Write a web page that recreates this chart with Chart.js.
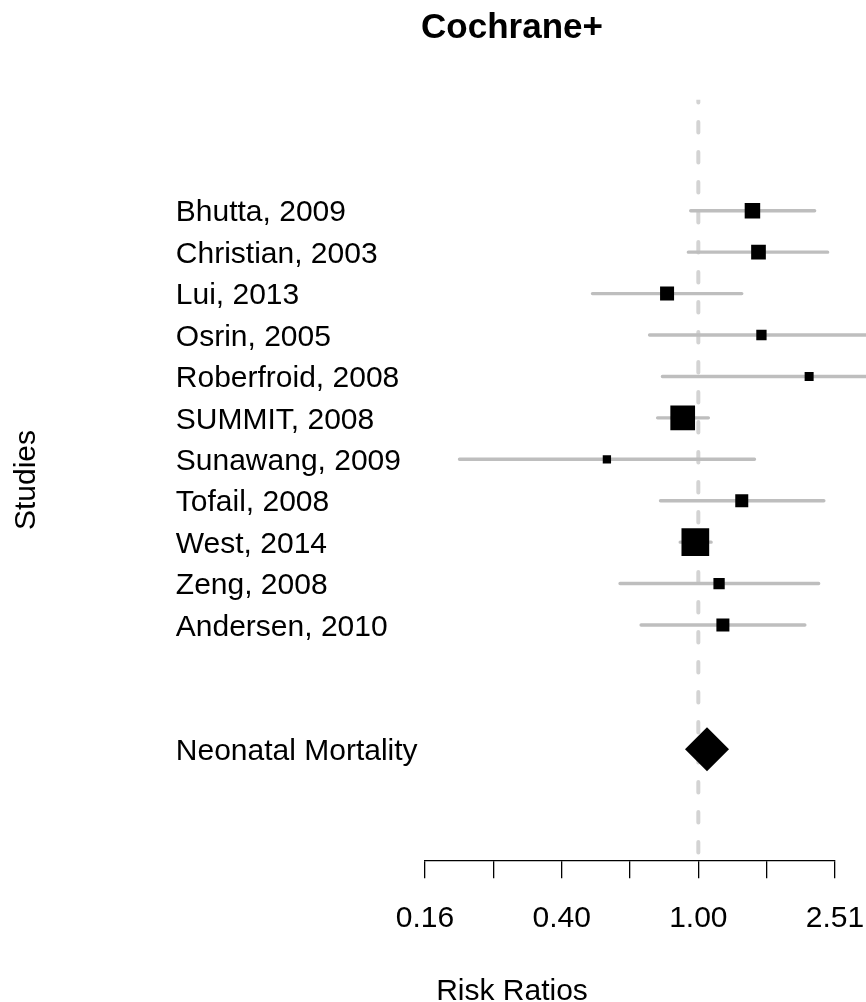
<!DOCTYPE html>
<html>
<head>
<meta charset="utf-8">
<title>Cochrane+</title>
<script src="https://cdn.jsdelivr.net/npm/chart.js@4/dist/chart.umd.min.js"></script>
<style>
  html, body { margin: 0; padding: 0; background: #ffffff; overflow: hidden; }
  canvas { display: block; }
</style>
</head>
<body>
<canvas id="forest" width="866" height="1002"></canvas>
<script>
// ---- data ----
const studies = [
  'Bhutta, 2009', 'Christian, 2003', 'Lui, 2013', 'Osrin, 2005',
  'Roberfroid, 2008', 'SUMMIT, 2008', 'Sunawang, 2009', 'Tofail, 2008',
  'West, 2014', 'Zeng, 2008', 'Andersen, 2010'
];
const riskRatio = [1.44, 1.50, 0.81, 1.53, 2.11, 0.90, 0.54, 1.34, 0.98, 1.15, 1.18];
const ciLower   = [0.95, 0.935, 0.49, 0.72, 0.785, 0.76, 0.20, 0.775, 0.885, 0.59, 0.68];
const ciUpper   = [2.19, 2.39, 1.34, 3.25, 5.66, 1.07, 1.46, 2.33, 1.09, 2.25, 2.05];

const summaryLabel = 'Neonatal Mortality';
const summaryRiskRatio = 1.06;

const tickExponents = [-0.8, -0.6, -0.4, -0.2, 0, 0.2, 0.4];
const tickLabels = ['0.16', '', '0.40', '', '1.00', '', '2.51'];

const chartTitle = 'Cochrane+';
const xTitle = 'Risk Ratios';
const yTitle = 'Studies';

// ---- layout / style ----
const FONT = '"Liberation Sans", Arial, Helvetica, sans-serif';
const TEXT_SIZE = 30;
const Y_MIN = -2.68;          // rows run top-down, study i on row i
const Y_MAX = 15.68;
const summaryRow = studies.length + 2;

// square side (px) for each study, scaled by its weight in the pooled estimate
const boxSide = [15.5, 14.7, 14, 10.3, 9, 24.7, 8.3, 13, 27.7, 11.3, 13];

const ciSegments = [];
studies.forEach((_, i) => {
  ciSegments.push({ x: ciLower[i], y: i }, { x: ciUpper[i], y: i }, { x: null, y: null });
});

const textPlugin = {
  id: 'forestText',
  afterDraw(chart) {
    const { ctx, scales: { y } } = chart;
    const labelX = 175.8;
    const centerX = 512;
    ctx.save();
    ctx.fillStyle = '#000000';
    ctx.textBaseline = 'alphabetic';

    // study names and pooled row
    ctx.font = TEXT_SIZE + 'px ' + FONT;
    ctx.textAlign = 'left';
    const lift = 0.355 * TEXT_SIZE;
    studies.forEach((name, i) => {
      ctx.fillText(name, labelX, y.getPixelForValue(i) + lift);
    });
    ctx.fillText(summaryLabel, labelX, y.getPixelForValue(summaryRow) + lift);

    // axis titles
    ctx.textAlign = 'center';
    ctx.fillText(xTitle, centerX, 1000);
    ctx.save();
    ctx.translate(35, (chart.chartArea.top + chart.chartArea.bottom) / 2);
    ctx.rotate(-Math.PI / 2);
    ctx.fillText(yTitle, 0, 0);
    ctx.restore();

    // main title
    ctx.font = 'bold 35px ' + FONT;
    ctx.fillText(chartTitle, centerX, 38.3);
    ctx.restore();
  }
};

new Chart(document.getElementById('forest'), {
  type: 'scatter',
  data: {
    datasets: [
      {
        // pooled estimate
        data: [{ x: summaryRiskRatio, y: summaryRow }],
        pointStyle: 'rectRot',
        pointRadius: 22,
        backgroundColor: '#000000',
        borderWidth: 0,
        order: 1
      },
      {
        // study estimates
        data: riskRatio.map((v, i) => ({ x: v, y: i })),
        pointStyle: 'rect',
        pointRadius: boxSide.map(s => s / Math.SQRT2),
        backgroundColor: '#000000',
        borderWidth: 0,
        order: 2
      },
      {
        // confidence intervals
        data: ciSegments,
        showLine: true,
        spanGaps: false,
        borderColor: '#bebebe',
        borderWidth: 3.4,
        borderCapStyle: 'round',
        pointRadius: 0,
        clip: false,
        order: 3
      },
      {
        // line of no effect
        data: [{ x: 1, y: Y_MIN }, { x: 1, y: Y_MAX }],
        showLine: true,
        borderColor: '#d3d3d3',
        borderWidth: 4,
        borderDash: [10.5, 19.5],
        borderDashOffset: 7.7,
        borderCapStyle: 'round',
        pointRadius: 0,
        order: 4
      }
    ]
  },
  options: {
    responsive: false,
    animation: false,
    events: [],
    layout: { padding: { left: 425, right: 31, top: 99.7, bottom: 51.7 } },
    plugins: {
      legend: { display: false },
      tooltip: { enabled: false },
      title: { display: false }
    },
    scales: {
      x: {
        type: 'logarithmic',
        position: 'bottom',
        bounds: 'data',
        min: Math.pow(10, tickExponents[0]),
        max: Math.pow(10, tickExponents[tickExponents.length - 1]),
        afterBuildTicks: (scale) => {
          scale.ticks = tickExponents.map(e => ({ value: Math.pow(10, e) }));
        },
        afterFit: (scale) => {
          scale.height = 90;
          scale.paddingLeft = 0;
          scale.paddingRight = 0;
        },
        grid: {
          display: true,
          drawOnChartArea: false,
          drawTicks: true,
          tickLength: 18,
          color: '#000000',
          lineWidth: 1.3
        },
        border: { display: true, color: '#000000', width: 1.3 },
        ticks: {
          autoSkip: false,
          maxRotation: 0,
          padding: 22,
          color: '#000000',
          font: { family: FONT, size: TEXT_SIZE },
          callback: (value, index) => tickLabels[index]
        }
      },
      y: {
        type: 'linear',
        display: false,
        reverse: true,
        bounds: 'data',
        min: Y_MIN,
        max: Y_MAX
      }
    }
  },
  plugins: [textPlugin]
});
</script>
</body>
</html>
